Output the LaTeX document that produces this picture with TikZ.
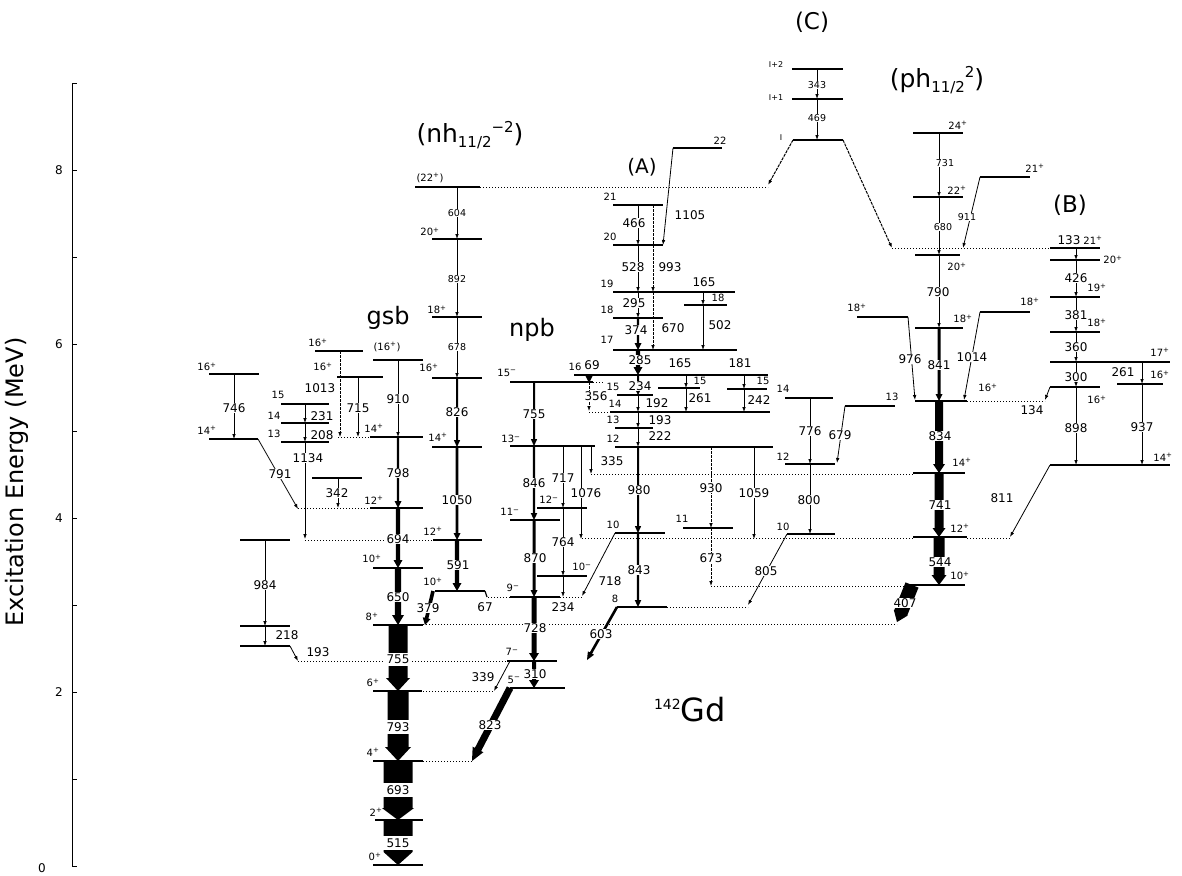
\documentclass[tikz,border=0pt]{standalone}
\usepackage{fontspec}
\setmainfont{DejaVu Sans}
\usetikzlibrary{arrows.meta,calc}
\newcommand{\fatarr}[5]{%
  \coordinate (fa1) at #1;
  \coordinate (fa2) at #2;
  \coordinate (fah) at ($(fa2)!#4pt!(fa1)$);
  \fill ($(fa1)!#3pt!90:(fa2)$) -- ($(fah)!#3pt!90:(fa2)$) -- ($(fah)!#5pt!90:(fa2)$) -- (fa2)
     -- ($(fah)!#5pt!-90:(fa2)$) -- ($(fah)!#3pt!-90:(fa2)$) -- ($(fa1)!#3pt!-90:(fa2)$) -- cycle;}
\tikzset{
  lv/.style={line width=1.1pt},
  dl/.style={line width=0.8pt, dash pattern=on 1.2pt off 1.8pt},
  tr/.style={line width=0.8pt, -{Latex[length=5pt,width=3.6pt]}},
  trd/.style={tr, dash pattern=on 3pt off 1pt},
  lab/.style={font=\fontsize{12}{12}\selectfont, fill=white, inner sep=0.6pt},
  slab/.style={font=\fontsize{9.5}{9.5}\selectfont, fill=white, inner sep=0.5pt},
  spn/.style={font=\fontsize{10}{10}\selectfont, inner sep=0pt},
  tiny/.style={font=\fontsize{8}{8}\selectfont, inner sep=0pt},
  bigl/.style={font=\fontsize{24}{24}\selectfont, inner sep=0pt},
}
\begin{document}
\begin{tikzpicture}[x=1pt,y=-1pt]
\fill[white] (0,0) rectangle (1182,875);
\useasboundingbox (0,0) rectangle (1182,875);

% axis
\draw[line width=0.9pt] (72,83) -- (72,866);
\foreach \k in {0,...,9} \draw[line width=0.9pt] (72,{866-87*\k}) -- (77,{866-87*\k});
\node[font=\fontsize{12}{12}\selectfont] (t8) at (59,170) {8};
\node[font=\fontsize{12}{12}\selectfont] (t6) at (59,344) {6};
\node[font=\fontsize{12}{12}\selectfont] (t4) at (59,518) {4};
\node[font=\fontsize{12}{12}\selectfont] (t2) at (59,692) {2};
\node[font=\fontsize{12}{12}\selectfont] (t0) at (42,868) {0};
\node[rotate=90, font=\fontsize{24}{24}\selectfont] (ytitle) at (17,482) {Excitation Energy (MeV)};

% solid levels
\foreach \a/\b/\y in {373/423/865, 375/423/820, 373/423/761, 373/422/691, 373/423/625, 373/423/568, 370/423/508, 370/423/437, 373/423/360,
  415/480/187, 432/482/239, 432/482/317, 432/482/378, 432/482/447, 433/482/540, 435/485/591,
  510/565/688, 507/557/661, 510/560/597, 537/587/576, 510/560/520, 537/587/508, 510/595/446, 510/593/382,
  617/667/607, 615/665/533, 615/773/447, 615/653/428, 610/770/412, 617/653/395, 574/768/375, 613/737/350, 613/663/318, 613/735/292, 613/663/245, 613/663/205, 673/722/148, 658/700/388, 727/767/389, 684/727/305,
  785/833/398, 785/835/464, 787/835/534, 845/895/406, 683/733/528,
  913/963/133, 913/963/197, 980/1030/177, 915/960/255, 915/963/328, 857/908/317, 980/1030/312, 915/967/401, 913/965/473, 913/967/537, 905/965/585,
  792/843/69, 792/843/99, 793/843/140,
  1050/1100/248, 1050/1100/260, 1050/1100/297, 1050/1100/332, 1050/1170/362, 1050/1100/387, 1117/1163/384, 1050/1170/465,
  209/259/374, 209/258/439, 281/329/404, 281/329/423, 281/329/442, 315/363/351, 337/383/377, 312/362/478, 240/290/540, 240/290/626, 240/290/646}
  \draw[lv] (\a,\y) -- (\b,\y);

% dotted extensions
\foreach \a/\b/\y in {298/370/508, 338/370/437, 305/433/540, 423/897/624, 298/507/661, 423/494/691, 423/472/761, 480/768/187,
  488/510/597, 560/582/597, 582/913/538, 591/913/474, 667/748/607, 711/905/586, 589/610/412, 593/603/382, 892/1050/248, 967/1045/401, 967/1010/538}
  \draw[dl] (\a,\y) -- (\b,\y);

% thin vertical transitions
\foreach \x/\a/\b in {398/360/437, 457/187/239, 457/239/317, 457/317/378,
  563/576/597, 563/508/576, 563/446/508, 581/446/539, 591/446/474,
  638/205/245, 638/245/292, 638/292/318, 638/395/412, 638/412/428, 638/428/447, 703/292/305, 703/305/350, 686/375/388, 686/388/412, 744/375/389, 744/389/412, 754/447/539,
  810/398/464, 810/464/534, 939/133/197, 939/197/255, 939/255/328, 817/69/99, 817/99/140,
  1076/248/260, 1076/260/297, 1076/297/332, 1076/332/362, 1076/362/387, 1076/387/465, 1142/362/384, 1142/384/465,
  234/374/439, 305/404/423, 305/423/442, 305/442/539, 358/377/437, 338/478/508, 265/540/626, 265/626/646}
  \draw[tr] (\x,\a) -- (\x,\b);
\foreach \x/\a/\b in {653/205/292, 653/292/350, 711/447/528, 711/528/586, 589/382/411, 340/351/437}
  \draw[trd] (\x,\a) -- (\x,\b);

% slanted thin transitions
\draw[tr] (258,439) -- (298,509);
\draw[tr] (290,646) -- (298,661);
\draw[tr] (510,661) -- (494,691);
\draw[tr] (615,533) -- (582,596);
\draw[tr] (673,148) -- (663,245);
\draw[tr] (845,406) -- (837,463);
\draw[tr] (787,534) -- (748,605);
\draw[tr] (908,317) -- (915,400);
\draw[tr] (980,312) -- (964,400);
\draw[tr] (980,177) -- (963,248);
\draw[tr] (1050,387) -- (1045,400);
\draw[tr] (1050,465) -- (1010,537);
\draw[line width=1.2pt] (485,591) -- (487,597);
\draw[trd, line width=1pt] (793,140) -- (768,185);
\draw[trd, line width=1pt] (843,140) -- (892,248);

% fat transitions
\fatarr{(398,820)}{(398,865)}{14.5}{13}{14.5}
\fatarr{(398,761)}{(398,820)}{14.5}{12}{16}
\fatarr{(398,691)}{(398,761)}{10.5}{14}{13}
\fatarr{(398,625)}{(398,691)}{9.5}{13}{12}
\fatarr{(398,568)}{(398,625)}{3.2}{10}{6}
\fatarr{(398,508)}{(398,568)}{2.2}{8}{4.5}
\fatarr{(398,437)}{(398,508)}{1.2}{7}{3.5}
\fatarr{(457,378)}{(457,447)}{1}{7}{3.2}
\fatarr{(457,447)}{(457,540)}{1.3}{7}{3.5}
\fatarr{(457,540)}{(457,591)}{2.2}{8}{4.5}
\fatarr{(433,591)}{(425,625)}{1.8}{7}{4}
\fatarr{(534,661)}{(534,688)}{2}{8}{5}
\fatarr{(534,597)}{(534,661)}{2.5}{8}{5}
\fatarr{(534,520)}{(534,597)}{1.5}{7}{3.5}
\fatarr{(534,446)}{(534,520)}{1.2}{7}{3.3}
\fatarr{(534,382)}{(534,446)}{1.0}{7}{3.2}
\fatarr{(510,688)}{(472,761)}{3.5}{13}{6}
\fatarr{(638,318)}{(638,350)}{1.2}{7}{3.5}
\fatarr{(638,350)}{(638,375)}{2.2}{8}{4.5}
\fatarr{(638,375)}{(638,395)}{1}{6}{3}
\fatarr{(638,447)}{(638,533)}{1}{7}{3.2}
\fatarr{(638,533)}{(638,607)}{1.2}{7}{3.3}
\fatarr{(617,607)}{(587,660)}{1.3}{8}{3.5}
\fatarr{(939,328)}{(939,401)}{1.5}{7}{3.5}
\fatarr{(939,401)}{(939,473)}{4}{9}{6}
\fatarr{(939,473)}{(939,537)}{4.5}{9}{6.5}
\fatarr{(939,537)}{(939,585)}{5.5}{10}{7.5}
\fatarr{(912,585)}{(897,622)}{7}{10}{7.5}
\fill (585,375) -- (593,375) -- (589,383) -- cycle;

% labels on the wide gsb arrows (white band across the whole arrow)
\node[lab, minimum width=33pt, minimum height=14pt] (l515) at (398,843) {515};
\node[lab, minimum width=33pt, minimum height=14pt] (l693) at (398,790) {693};
\node[lab, minimum width=28pt, minimum height=14pt] (l793) at (398,727) {793};
\node[lab, minimum width=26pt, minimum height=13pt] (l755) at (398,659) {755};

% transition labels
\foreach \x/\y/\t in {398/597/650, 398/539/694, 398/473/798, 398/399/910,
  457/412/826, 457/500/1050, 458/565/591, 428/608/379, 485/607/67,
  535/674/310, 535/628/728, 535/558/870, 534/483/846, 534/414/755, 563/607/234, 563/542/764, 563/478/717, 586/493/1076, 612/461/335, 483/677/339, 490/725/823, 592/365/69, 596/396/356,
  634/223/466, 633/267/528, 670/267/993, 634/303/295, 636/330/374, 673/328/670, 720/325/502, 704/282/165, 690/215/1105, 640/360/285, 640/386/234, 657/403/192, 660/420/193, 660/436/222, 639/490/980, 639/570/843, 610/581/718, 601/634/603, 711/488/930, 711/558/673, 754/493/1059, 680/363/165, 700/398/261, 740/363/181, 759/400/242,
  810/431/776, 809/500/800, 840/435/679, 766/571/805,
  938/292/790, 910/359/976, 939/365/841, 972/357/1014, 940/436/834, 940/505/741, 940/562/544, 905/603/407,
  1069/240/133, 1076/278/426, 1076/315/381, 1076/347/360, 1076/377/300, 1076/428/898, 1142/427/937, 1123/372/261, 1032/410/134, 1002/498/811,
  234/408/746, 280/474/791, 322/416/231, 322/435/208, 308/458/1134, 320/388/1013, 358/408/715, 337/493/342, 265/585/984, 287/635/218, 318/652/193}
  \node[lab] at (\x,\y) {\t};
\foreach \x/\y/\t in {457/213/604, 457/279/892, 457/347/678, 945/163/731, 943/227/680, 967/217/911, 817/85/343, 817/118/469}
  \node[slab] at (\x,\y) {\t};

% plain level labels
\foreach \x/\y/\t in {610/197/21, 610/237/20, 607/284/19, 607/310/18, 607/340/17, 575/367/16, 613/387/15, 615/404/14, 613/420/13, 613/439/12, 613/525/10, 615/599/8, 682/519/11, 720/141/22, 718/298/18, 700/381/15, 763/381/15,
  783/389/14, 783/457/12, 783/527/10, 892/397/13, 278/395/15, 274/416/14, 274/434/13}
  \node[spn] at (\x,\y) {\t};

% spin-parity labels
\foreach \x/\y/\n/\s in {375/857/0/+, 376/812/2/+, 373/752/4/+, 373/683/6/+, 372/617/8/+, 372/559/10/+, 374/500/12/+, 374/428/14/+,
  430/232/20/+, 437/310/18/+, 429/368/16/+, 438/437/14/+, 433/531/12/+, 433/582/10/+,
  514/680/5/−, 512/652/7/−, 513/588/9/−, 582/567/10/−, 510/512/11/−, 549/500/12/−, 511/439/13/−, 507/373/15/−,
  958/125/24/+, 957/190/22/+, 1035/168/21/+, 957/267/20/+, 963/319/18/+, 857/308/18/+, 1030/302/18/+, 988/388/16/+, 962/462/14/+, 960/528/12/+, 960/576/10/+,
  1093/240/21/+, 1113/260/20/+, 1097/288/19/+, 1097/323/18/+, 1160/352/17/+, 1097/400/16/+, 1160/375/16/+, 1163/457/14/+,
  207/367/16/+, 207/430/14/+, 318/343/16/+, 323/367/16/+}
  \node[spn] at (\x,\y) {\n\textsuperscript{\s}};
\node[spn] (j22) at (430,178) {(22\textsuperscript{+})};
\node[spn] (j16) at (387,347) {(16\textsuperscript{+})};
\node[tiny] (i2) at (776,65) {I+2};
\node[tiny] (i1) at (776,98) {I+1};
\node[tiny] (i0) at (781,138) {I};

% band labels
\node[bigl] (gsb) at (388,318) {gsb};
\node[bigl] (npb) at (532,330) {npb};
\node[font=\fontsize{20}{20}\selectfont] (bA) at (642,167) {(A)};
\node[font=\fontsize{23}{23}\selectfont] (bC) at (812,22) {(C)};
\node[font=\fontsize{23}{23}\selectfont] (bB) at (1070,205) {(B)};
\node[font=\fontsize{25}{25}\selectfont, inner sep=0pt] (nh) at (470,135) {(nh\raisebox{-0.35ex}{\fontsize{15}{15}\selectfont 11/2}\raisebox{0.75ex}{\fontsize{15}{15}\selectfont −2})};
\node[font=\fontsize{25}{25}\selectfont, inner sep=0pt] (ph) at (937,80) {(ph\raisebox{-0.35ex}{\fontsize{15}{15}\selectfont 11/2}\raisebox{0.75ex}{\fontsize{15}{15}\selectfont 2})};
\node[inner sep=0pt] (gd) at (690,710) {\raisebox{2.2ex}{\fontsize{14}{14}\selectfont 142}\fontsize{32}{32}\selectfont Gd};
\end{tikzpicture}
\end{document}
